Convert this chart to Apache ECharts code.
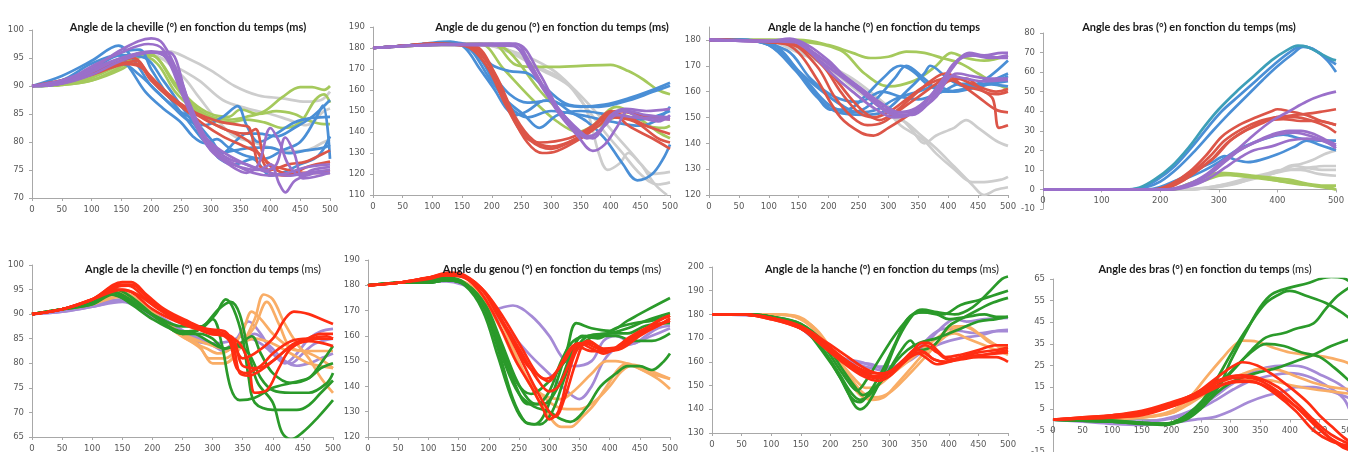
<!DOCTYPE html>
<html><head><meta charset="utf-8">
<script src="https://cdn.jsdelivr.net/npm/echarts@6/dist/echarts.min.js"></script>
<style>html,body{margin:0;padding:0;background:#fff}#c{width:1348px;height:452px}</style>
</head><body><div id="c"></div>
<script>
// ---------- Titles ----------
const titles = [
  "Angle de la cheville (°) en fonction du temps (ms)",
  "Angle de du genou (°) en fonction du temps (ms)",
  "Angle de la hanche (°) en fonction du temps",
  "Angle des bras (°) en fonction du temps (ms)",
  "Angle de la cheville (°) en fonction du temps",
  "Angle du genou (°) en fonction du temps",
  "Angle de la hanche (°) en fonction du temps",
  "Angle des bras (°) en fonction du temps"
];
const titleSuffix = ["", "", "", "", "(ms)", "(ms)", "(ms)", "(ms)"];

// ---------- Axis ranges ----------
const yMins = [70, 110, 120, -10, 65, 120, 130, -15];
const yMaxs = [100, 190, 185, 80, 100, 190, 200, 65];
const yIntervals = [5, 10, 10, 10, 5, 10, 10, 10];
const xIntervals = [50, 50, 50, 100, 50, 50, 50, 50];

// ---------- Panel 1: ankle (top) ----------
const ankleTopGrey = [
 [[0,90],[50,90.3],[100,92],[150,94],[200,95.8],[230,96.2],[260,95],[300,92.8],[340,90],[380,88.3],[420,87.8],[460,87.2],[485,87.5],[500,89]],
 [[0,90],[50,90.3],[100,92],[150,94],[200,95.5],[240,93.5],[280,91],[320,87.5],[360,86],[400,85],[430,84],[460,83],[490,85.5],[500,86]],
 [[0,90],[50,90.3],[100,92],[150,94],[200,95.5],[250,92],[280,88],[310,84],[340,81],[370,80],[400,79],[430,78.3],[460,78.5],[490,80],[500,80.5]]
];
const ankleTopGreen = [
 [[0,90],[50,90.2],[100,91],[150,93],[190,95.5],[210,95],[240,90],[270,86.5],[300,84.5],[330,84],[360,84.5],[390,85.5],[420,88],[450,89.8],[470,89.8],[490,89.3],[500,90]],
 [[0,90],[50,90.3],[100,91.5],[150,94],[185,96],[210,95],[240,90.5],[270,87],[300,85],[330,84.5],[350,85.8],[380,85],[410,85.5],[440,85],[460,84],[490,83.2],[500,83.2]],
 [[0,90],[50,90.2],[100,91],[150,93.5],[180,95.5],[210,94],[240,89],[270,86],[300,84],[330,83.5],[360,84],[390,83.5],[420,82.5],[450,83.5],[475,87.5],[490,88.5],[500,87]]
];
const ankleTopBlue = [
 [[0,90],[50,91.8],[100,94.5],[145,97.2],[175,94],[200,90],[230,87],[260,84],[290,83],[320,84.5],[345,86.4],[360,83],[380,80],[410,81.5],[440,83.5],[470,84.3],[500,84.5]],
 [[0,90],[50,91],[100,94],[145,95.5],[165,93],[190,89],[220,86],[250,83.5],[270,81],[290,79.8],[310,80.5],[330,79],[360,77.5],[390,77],[420,78.5],[450,80],[475,84],[488,86.5],[500,77]],
 [[0,90],[50,91],[100,93],[150,94],[180,92],[210,89],[240,86],[270,84],[300,80.5],[320,78],[340,80],[360,81.5],[380,81.5],[410,81],[440,82.5],[470,84.5],[500,87.5]],
 [[0,90],[50,90.5],[100,93],[150,95.5],[190,95],[220,91],[250,86.5],[280,82],[300,79],[315,77],[340,76],[370,77],[400,74],[420,74.5],[450,76],[480,77.5],[500,81]],
 [[0,90],[50,90.8],[100,93],[150,96],[180,96.5],[200,93],[230,88],[260,84],[290,80],[310,78],[340,78.5],[370,79],[400,79],[430,78],[460,78.5],[490,79],[500,79.5]]
];
const ankleTopRed = [
 [[0,90],[50,90.8],[100,92.5],[150,94],[175,94.5],[200,91],[230,88],[260,86],[290,84.5],[320,83.5],[350,83],[365,82.5],[380,76],[400,75],[430,76],[460,76.5],[490,78],[500,78.5]],
 [[0,90],[50,91],[100,92.5],[150,94.5],[170,95],[200,91.5],[230,88.5],[260,86],[290,84],[320,82.5],[350,81],[370,79.5],[385,77],[400,74.5],[430,74],[460,75.5],[500,76.5]],
 [[0,90],[50,90.8],[100,92],[150,94],[180,93.5],[210,90.5],[240,87.5],[270,85.5],[300,83.5],[330,82],[360,81.5],[375,82.3],[390,77],[410,75],[440,74.2],[470,74.5],[500,75]],
 [[0,90],[50,90.5],[100,92],[150,93.8],[175,94],[200,91],[230,88],[260,85.5],[290,83],[320,81],[350,79.5],[380,78],[400,76],[430,75],[460,74.5],[500,74.5]]
];
const ankleTopPurple = [
 [[0,90],[50,90.5],[100,93],[150,96.5],[200,98.5],[220,97.5],[250,91],[270,85],[290,81],[310,79],[340,77],[370,75.5],[400,74.5],[430,74],[460,74.5],[500,75]],
 [[0,90],[50,90.6],[100,93.5],[150,96],[195,97.5],[220,96.5],[250,90],[270,84.5],[290,80],[320,77],[350,75.5],[380,75],[400,76],[415,72.5],[425,71],[440,73],[460,74],[480,74.5],[500,74.5]],
 [[0,90],[50,91],[100,93],[150,95],[200,96],[225,95],[250,89],[275,83],[300,78.5],[330,76],[360,74.5],[380,76],[400,82.5],[415,80],[430,76],[450,74],[470,75],[500,75.5]],
 [[0,90],[50,90.5],[100,92.5],[150,95],[200,96.2],[230,95],[255,89],[280,83],[300,79.5],[330,77],[360,76],[390,75],[410,76],[425,80.8],[440,78],[455,73.5],[475,73.8],[500,74.5]],
 [[0,90],[50,90.4],[100,92],[150,94.5],[200,96],[230,96],[260,88],[285,82],[310,78],[340,76],[370,74.5],[400,74],[430,74.5],[460,75.5],[500,76]]
];

// ---------- Panel 2: knee (top) ----------
const kneeTopGrey = [
 [[0,180],[100,181.5],[180,182],[230,178],[280,170],[330,162],[360,150],[380,130],[395,122],[415,125],[430,130],[450,125],[470,120],[500,121]],
 [[0,180],[100,181.5],[170,181.5],[220,180],[270,172],[320,165],[350,155],[390,140],[420,130],[450,120],[480,115],[500,116]],
 [[0,180],[100,181.5],[180,181.5],[240,178],[300,170],[340,160],[380,148],[410,138],[450,125],[475,115],[495,110]]
];
const kneeTopGreen = [
 [[0,180],[100,181.5],[200,182],[240,172],[270,171],[300,171],[350,171.5],[400,172],[430,169],[455,165],[480,160],[500,158]],
 [[0,180],[100,181.5],[180,182],[220,170],[270,155],[310,145],[345,140],[370,143],[410,152],[450,146],[480,140],[500,137]],
 [[0,180],[100,181.5],[200,181.5],[230,178],[280,160],[320,148],[350,140],[380,143],[420,148],[460,143],[490,142],[500,143]]
];
const kneeTopBlue = [
 [[0,180],[50,181],[100,182.5],[130,183],[155,180],[180,170],[205,160],[225,151],[240,148],[260,150],[290,155],[320,153],[350,152],[390,153],[430,156],[470,160],[500,163.5]],
 [[0,180],[50,181],[100,182],[140,182.5],[170,180],[200,172],[230,169],[260,168],[290,161],[330,153],[380,152],[430,155],[470,159],[500,162]],
 [[0,180],[50,181],[100,182],[140,182.5],[165,179],[195,166],[225,155],[255,148],[280,142],[310,148],[350,150],[400,148],[450,146],[500,150]],
 [[0,180],[50,181],[100,182],[140,182],[170,178],[200,168],[230,158],[260,154],[300,155],[330,150],[360,145],[390,137],[420,125],[445,117],[470,120],[490,128],[500,134]],
 [[0,180],[50,181],[100,182],[140,182],[175,177],[205,163],[230,152],[260,147],[300,150],[350,148],[400,145],[450,143],[480,146],[500,152]]
];
const kneeTopRed = [
 [[0,180],[50,181],[100,182],[160,181],[195,172],[230,150],[260,135],[285,130],[310,131],[350,137],[380,143],[405,149],[430,147],[460,143],[490,140],[500,139]],
 [[0,180],[50,181],[100,182],[165,181],[200,170],[235,148],[265,136],[300,132],[330,135],[360,140],[410,150],[450,148],[500,146]],
 [[0,180],[50,181],[100,182],[155,181],[190,172],[225,152],[255,138],[280,135],[330,137],[370,143],[400,150],[430,143],[470,137],[500,132]],
 [[0,180],[50,181],[100,182],[170,181],[205,168],[240,147],[270,136],[300,133],[350,138],[400,147],[440,145],[480,137],[500,135]]
];
const kneeTopPurple = [
 [[0,180],[100,181.5],[230,182],[250,178],[280,165],[310,150],[345,138],[370,131],[390,134],[410,142],[430,150],[460,148],[500,147]],
 [[0,180],[100,181.5],[240,182],[260,175],[290,160],[330,145],[360,138],[380,140],[400,148],[425,151],[460,150],[500,151]],
 [[0,180],[100,181.5],[235,181],[265,170],[300,155],[350,140],[370,137],[395,145],[420,150],[450,147],[480,145],[500,148]],
 [[0,180],[100,181.5],[240,182],[280,168],[310,152],[340,141],[360,137],[390,143],[410,148],[440,147],[500,146]]
];

// ---------- Panel 3: hip (top) ----------
const hipTopGrey = [
 [[0,180],[100,179.5],[150,175],[200,170],[240,165],[280,158],[320,150],[340,145],[360,140],[380,143],[400,145],[410,146],[430,149],[450,146],[480,141],[500,139]],
 [[0,180],[100,179.5],[160,176],[210,168],[260,160],[300,152],[320,147],[340,144],[360,141],[380,136],[410,130],[440,125],[460,125],[490,126],[500,127]],
 [[0,180],[100,179.5],[150,176],[200,169],[250,160],[280,155],[310,150],[330,148],[350,144],[380,138],[410,131],[440,124],[460,120],[480,122],[500,123]]
];
const hipTopGreen = [
 [[0,180],[100,180],[150,180],[200,178],[240,175],[270,173],[300,173.5],[330,175.5],[360,175],[390,173],[420,171],[450,167],[480,163],[500,161]],
 [[0,180],[100,180],[150,179.5],[220,176],[260,167],[300,162],[320,162.5],[350,165],[380,170],[405,175],[430,173],[460,172],[500,174]]
];
const hipTopBlue = [
 [[0,180],[50,180],[100,178],[140,170],[175,160],[205,153],[230,153],[260,158],[290,165],[320,170],[340,168],[370,162],[400,160],[440,162],[470,166],[500,172]],
 [[0,180],[50,180],[100,178],[145,168],[180,158],[215,152],[260,151],[290,152],[330,160],[360,167],[370,170],[400,165],[430,162],[470,163],[500,164]],
 [[0,180],[50,180],[110,177],[160,165],[200,155],[240,152],[270,155],[310,165],[330,170],[360,165],[390,160],[430,161],[470,163],[500,166]],
 [[0,180],[50,180],[110,178],[150,168],[190,160],[220,155],[250,152],[280,153],[310,157],[350,160],[380,162],[410,160],[450,162],[480,165],[500,167]],
 [[0,180],[50,180],[130,176],[170,165],[210,158],[250,156],[290,160],[320,158],[350,157],[390,160],[420,163],[460,163],[500,162]]
];
const hipTopRed = [
 [[0,180],[120,179],[150,175],[180,165],[220,150],[255,144],[275,143],[300,146],[340,152],[370,158],[400,164],[430,165],[460,160],[480,159],[500,160]],
 [[0,180],[130,179],[180,170],[210,158],[240,150],[265,147],[290,148],[320,153],[350,158],[380,163],[400,166],[420,163],[450,158],[480,153],[500,152]],
 [[0,180],[140,178],[190,170],[220,160],[250,152],[275,150],[300,152],[330,157],[360,162],[395,165],[430,162],[460,160],[475,157],[485,146],[500,147]],
 [[0,180],[150,178],[200,168],[235,158],[260,152],[285,149],[310,152],[340,158],[370,164],[395,167],[420,165],[450,162],[480,160],[500,161]]
];
const hipTopPurple = [
 [[0,180],[100,179.5],[135,180.5],[165,178],[200,172],[230,165],[265,158],[295,153],[320,151],[345,152],[370,158],[395,166],[415,172],[435,175],[460,174],[490,175],[500,175]],
 [[0,180],[100,179.5],[140,180],[170,176],[205,170],[245,162],[280,155],[310,151],[340,151],[365,155],[390,163],[410,170],[430,174],[460,174],[490,173],[500,173]],
 [[0,180],[100,179.5],[150,179],[185,172],[220,166],[255,160],[290,155],[320,152],[350,153],[380,158],[400,165],[415,167],[440,166],[470,165],[500,165]],
 [[0,180],[100,179.5],[130,180],[160,177],[200,168],[240,160],[280,153],[310,150],[335,151],[360,156],[385,162],[405,166],[430,165],[460,164],[500,164.5]],
 [[0,180],[100,179.5],[140,180],[175,175],[215,168],[250,162],[285,156],[315,152],[340,153],[365,157],[390,164],[410,171],[440,174],[470,173],[500,174]]
];

// ---------- Panel 4: arms (top) ----------
const armsTopGrey = [
 [[0,0],[230,0],[280,1],[320,3],[360,6],[400,9],[420,12],[440,13],[460,15],[480,18],[500,20]],
 [[0,0],[250,0],[290,1],[330,3],[360,6],[390,8],[420,10],[450,11],[480,12],[500,12]],
 [[0,0],[240,0],[290,1],[340,4],[380,7],[410,10],[430,12],[450,11],[480,10],[500,10]],
 [[0,0],[250,0],[300,2],[340,5],[380,8],[410,10],[440,10],[470,8],[500,7]]
];
const armsTopGreen = [
 [[0,0],[220,0],[250,3],[280,7],[300,8.5],[330,8],[360,7],[390,6],[420,5],[450,3],[480,2],[500,2]],
 [[0,0],[220,0],[250,2],[280,5],[300,7],[320,7.5],[350,7],[390,5],[430,3],[460,2],[490,1],[500,0]],
 [[0,0],[215,0],[250,3],[275,6],[300,8],[330,7],[360,6],[400,4.5],[440,3],[480,1],[500,0]]
];
const armsTopTeal = [
 [[0,0],[140,0],[165,1],[190,5],[220,12],[250,22],[275,32],[300,41],[330,50],[360,58],[390,66],[415,71],[435,73.5],[450,73],[470,70],[490,67],[500,66]]
];
const armsTopBlue = [
 [[0,0],[145,0],[170,1],[195,5],[225,12],[255,22],[282,32],[305,40],[335,48],[365,56],[395,64],[420,70],[440,73],[460,72],[480,68],[500,64]],
 [[0,0],[150,0],[175,1],[200,4],[230,11],[260,20],[290,30],[315,38],[345,47],[375,56],[400,63],[425,69],[445,73],[465,71],[485,66],[500,60]],
 [[0,0],[180,0],[230,5],[260,10],[290,14],[310,17],[330,15],[350,14],[370,15],[400,18],[430,22],[450,25],[470,23],[490,21],[500,20]],
 [[0,0],[190,0],[230,4],[270,9],[300,14],[330,20],[360,24],[390,27],[410,28],[440,26],[470,25],[500,25]]
];
const armsTopRed = [
 [[0,0],[190,0],[220,3],[250,9],[280,18],[305,27],[335,33],[365,37],[390,40],[400,41],[420,40],[450,38],[475,35],[500,33]],
 [[0,0],[190,0],[225,3],[255,9],[285,17],[310,25],[340,31],[370,35],[400,37],[430,38],[460,39],[480,40],[500,41]],
 [[0,0],[200,0],[230,3],[260,9],[290,16],[315,24],[345,30],[375,34],[400,37],[430,37],[460,35],[485,32],[500,29]],
 [[0,0],[195,0],[235,4],[265,10],[295,17],[320,25],[350,31],[380,35],[410,36],[440,35],[470,35],[500,33]]
];
const armsTopPurple = [
 [[0,0],[210,0],[250,3],[280,8],[300,13],[330,20],[360,28],[390,35],[420,40],[450,45],[475,48],[500,50]],
 [[0,0],[215,0],[255,3],[285,8],[305,13],[330,19],[360,24],[390,28],[420,30],[440,30],[465,28],[485,25],[500,23]],
 [[0,0],[220,0],[255,2],[285,6],[310,11],[335,16],[360,20],[390,22],[420,25],[450,26],[475,25],[500,22]],
 [[0,0],[215,0],[255,3],[285,8],[310,14],[335,20],[370,25],[400,28],[430,29],[460,27],[485,24],[500,21]]
];

// ---------- Panel 5: ankle (bottom) ----------
const ankleBotPurple = [
 [[0,90],[50,90.8],[100,92],[150,93],[180,91.5],[220,89],[260,86],[300,84],[320,83],[340,85],[360,88.5],[380,86],[400,82],[420,80],[440,82],[460,85],[480,86.5],[500,87]],
 [[0,90],[50,90.5],[100,91.5],[150,92.5],[185,91],[225,88.5],[260,85.5],[295,84],[320,82.5],[345,84],[370,86],[395,83.5],[420,80.5],[440,79.5],[460,80],[480,81],[500,82]],
 [[0,90],[50,90.5],[100,91.5],[150,92.8],[180,91],[220,88],[260,85],[300,84],[330,84.5],[350,85.5],[380,84],[410,81],[430,80],[450,82],[470,84],[500,85]]
];
const ankleBotOrange = [
 [[0,90],[50,91],[100,92.5],[145,94],[170,92.5],[210,89],[250,85.5],[280,83],[300,80],[320,80],[345,83],[370,89],[385,94],[400,93],[420,88],[440,84],[460,81],[480,77],[500,74]],
 [[0,90],[50,91],[100,92.5],[140,94.5],[165,93],[200,90],[240,86.5],[275,84],[295,81],[320,81],[345,83.5],[370,87.5],[390,92.5],[410,88],[430,83],[450,82.5],[470,81.5],[490,80],[500,79]],
 [[0,90],[50,91],[100,92],[145,93.5],[175,92],[215,88.5],[255,85],[290,83],[310,82],[330,83],[350,86.5],[365,90.5],[380,89],[400,86],[425,83.5],[450,82.5],[500,82.5]],
 [[0,90],[50,91],[100,92],[150,94.5],[175,93],[215,89],[250,86],[290,84],[320,83],[345,84],[370,85],[400,84],[430,82],[460,80],[500,79]]
];
const ankleBotGreen = [
 [[0,90],[50,91],[100,92.5],[135,94.5],[160,93],[200,90],[250,87.5],[280,87.5],[300,89],[315,84],[330,75],[345,72.5],[370,73],[400,75],[430,76],[460,77],[480,79],[500,80]],
 [[0,90],[50,91],[100,92.5],[140,95],[170,93],[210,89],[250,86.5],[280,87],[305,90],[322,93],[335,91],[350,85],[360,77],[370,72],[400,70.5],[440,70.5],[460,71.5],[480,74],[500,76.5]],
 [[0,90],[50,91],[100,92],[130,94],[170,92],[210,89],[250,86],[280,87],[310,91],[330,92.5],[345,90],[360,82],[375,76],[400,72],[415,66],[430,64.5],[450,66],[475,69],[500,72.5]],
 [[0,90],[50,91],[100,92.5],[135,94.5],[175,92],[215,88.5],[250,86],[280,86],[300,85],[320,83],[345,84],[365,85.5],[380,82],[400,78],[430,76],[460,77],[480,80],[500,83.5]],
 [[0,90],[50,91],[100,92],[135,94],[165,92],[200,89],[240,86.5],[270,86],[300,84],[320,83],[340,83.5],[360,82],[380,77],[400,74.5],[430,74],[460,74],[490,76],[500,78]]
];
const ankleBotRed = [
 [[0,90],[50,91],[100,93],[150,96.5],[165,96.5],[190,94],[220,91],[260,88.5],[290,87],[320,86.5],[335,84],[350,81],[370,82],[400,85],[420,89],[435,90.5],[460,90],[480,89],[500,88]],
 [[0,90],[50,91],[100,93],[145,96],[165,96],[195,93],[230,90],[265,88],[300,86.5],[325,85.5],[340,79],[355,78],[380,79.5],[400,82],[430,84.5],[460,85],[500,85]],
 [[0,90],[50,91],[100,93],[140,95.5],[160,95.8],[190,93],[225,90],[260,88],[295,86],[320,85.5],[335,83],[345,78],[360,77.5],[385,79],[410,81.5],[435,84],[460,85],[490,85.5],[500,85]],
 [[0,90],[50,91],[100,93],[140,95],[165,94.5],[200,91],[240,88.5],[280,87],[300,86],[325,85.5],[345,84],[360,80],[370,74],[390,74.5],[410,79],[430,83],[460,84.5],[500,83.5]],
 [[0,90],[50,91],[100,93],[150,95],[175,94],[210,91],[250,88],[290,86.5],[320,86],[335,85],[350,79.5],[375,79],[400,80.5],[425,83],[450,84.5],[480,86],[500,86]]
];

// ---------- Panel 6: knee (bottom) ----------
const kneeBotPurple = [
 [[0,180],[50,181],[130,182],[175,178],[200,170],[240,172],[270,168],[300,160],[320,152],[340,148],[370,150],[390,158],[410,160],[440,157],[460,160],[480,163],[500,164]],
 [[0,180],[50,181],[130,181.5],[180,177],[210,168],[240,160],[270,152],[300,145],[330,138],[350,135],[370,140],[390,150],[410,155],[440,157],[470,160],[500,163]]
];
const kneeBotOrange = [
 [[0,180],[50,181],[100,182],[130,182.5],[170,180],[210,170],[240,155],[270,140],[295,130],[320,124],[335,124],[355,128],[375,133],[395,140],[415,147],[430,149],[450,147],[480,143],[500,139]],
 [[0,180],[50,181],[100,182],[130,182],[175,179],[215,168],[245,152],[270,140],[295,136],[320,135],[340,138],[370,145],[395,150],[410,150],[440,148],[470,145],[500,143]],
 [[0,180],[50,181],[100,181.5],[130,182],[180,178],[215,165],[245,150],[275,140],[305,133],[330,131],[350,131],[375,134],[400,140],[420,146],[440,148.5],[460,147],[490,144],[500,143]]
];
const kneeBotGreen = [
 [[0,180],[50,181],[100,182],[130,183],[160,181],[190,172],[215,155],[240,135],[260,126],[275,125],[290,128],[310,140],[330,155],[345,165],[370,163],[400,162],[430,166],[460,170],[500,175]],
 [[0,180],[50,181],[100,181.5],[130,182],[160,180],[190,170],[215,152],[240,134],[260,126],[285,125],[305,130],[325,143],[345,155],[365,160],[400,161],[430,163],[460,166],[500,169]],
 [[0,180],[50,181],[100,181],[130,182],[165,180],[195,172],[220,158],[245,143],[265,135],[280,133],[300,138],[320,150],[340,158],[370,160],[410,160],[440,158],[470,158],[500,161]],
 [[0,180],[50,181],[100,181],[130,182],[165,180],[195,170],[220,155],[245,140],[265,133],[290,133],[315,140],[335,152],[355,160],[380,159],[410,163],[440,165],[470,166],[500,168]],
 [[0,180],[50,181],[100,182],[130,182],[170,179],[200,168],[225,150],[250,137],[275,132],[300,130],[320,127],[335,126],[360,131],[385,140],[410,145],[430,148],[450,148],[470,146.5],[490,150],[500,153]],
 [[0,180],[50,181],[100,181],[130,182],[165,180],[195,171],[220,156],[245,142],[270,137],[300,142],[320,148],[345,155],[375,160],[400,161],[430,161],[460,164],[500,165]]
];
const kneeBotRed = [
 [[0,180],[50,181],[100,183],[135,185],[160,184],[190,178],[215,168],[240,158],[265,148],[290,143],[300,142],[315,147],[335,155],[350,157],[370,155],[390,153],[420,157],[450,161],[480,164],[500,167]],
 [[0,180],[50,181],[100,183],[130,184.5],[160,183.5],[195,177],[225,165],[255,153],[280,143],[300,138],[315,140],[335,150],[350,157],[370,157],[390,154],[420,155],[450,160],[480,164],[500,166]],
 [[0,180],[50,181],[100,183],[130,184],[165,182.5],[200,175],[230,162],[255,150],[280,138],[300,130],[310,128],[325,135],[345,150],[360,157],[380,155],[400,154],[430,158],[460,163],[490,167],[500,168]],
 [[0,180],[50,181],[100,183],[130,184],[160,183],[190,176],[220,163],[245,150],[270,140],[290,131],[300,127],[315,130],[330,143],[345,154],[365,158],[390,155],[420,156],[450,161],[480,166],[500,168]],
 [[0,180],[50,181],[100,182.5],[130,184],[165,183],[195,177],[225,167],[255,155],[280,145],[295,143],[305,144],[325,150],[345,156],[370,154],[400,154],[430,159],[460,163],[500,166]]
];

// ---------- Panel 7: hip (bottom) ----------
const hipBotPurple = [
 [[0,180],[100,179],[140,176],[175,170],[210,163],[240,160],[270,159],[290,157],[310,158],[340,162],[370,170],[395,176],[410,178],[430,177],[460,178],[500,178.5]],
 [[0,180],[100,179],[145,175],[180,168],[215,162],[245,159],[275,157],[295,156],[320,160],[350,166],[375,172],[395,174],[420,173],[450,172],[480,173],[500,173]],
 [[0,180],[100,179],[145,175],[180,168],[215,162],[250,160],[280,158],[300,158],[330,160],[360,165],[390,168],[420,170],[450,171],[480,173],[500,173.5]]
];
const hipBotOrange = [
 [[0,180],[100,180],[140,179.5],[170,175],[200,165],[230,153],[250,146],[270,144],[290,145],[310,150],[335,157],[360,164],[390,170],[410,174],[425,175],[450,172],[480,167],[500,164]],
 [[0,180],[100,180],[140,179],[175,174],[205,164],[235,153],[255,147],[275,145],[300,147],[330,154],[360,162],[390,170],[410,172],[430,170],[460,167],[480,165],[500,163]],
 [[0,180],[100,180],[140,179],[175,173],[210,162],[240,153],[260,149],[280,150],[305,155],[330,160],[360,166],[385,171],[410,175],[430,175],[450,172],[470,168],[500,166]]
];
const hipBotGreen = [
 [[0,180],[50,180],[100,179],[150,175],[185,165],[220,152],[240,142],[250,140],[265,143],[290,155],[315,170],[340,180],[355,182],[380,181],[410,180],[440,183],[470,190],[490,195],[500,196]],
 [[0,180],[50,180],[100,179],[150,175],[185,166],[215,154],[235,145],[250,143],[260,145],[285,155],[310,168],[330,178],[350,181],[380,180],[400,178],[430,179],[460,180],[480,179],[500,179]],
 [[0,180],[50,180],[100,179],[150,176],[185,168],[215,157],[235,150],[245,148],[260,152],[280,160],[300,168],[320,175],[340,180],[360,181],[390,180],[420,184],[450,186],[475,188],[500,190]],
 [[0,180],[50,180],[100,179],[150,175],[185,166],[215,155],[235,147],[250,144],[270,147],[295,155],[320,165],[335,169],[350,165],[375,167],[400,175],[420,178],[450,182],[475,185],[500,187]],
 [[0,180],[50,180],[100,179],[150,176],[190,168],[220,157],[240,150],[255,146],[270,148],[290,153],[310,160],[330,165],[350,168],[380,170],[400,172],[420,174],[450,177],[480,178],[500,179]]
];
const hipBotRed = [
 [[0,180],[50,180],[100,178.5],[150,175],[190,168],[225,161],[255,156],[275,154],[295,155],[320,160],[340,165],[355,168],[365,168],[380,165],[395,162],[420,163],[450,165],[480,167],[500,167]],
 [[0,180],[50,180],[100,178.5],[150,174],[190,167],[225,160],[255,155],[280,153],[305,156],[330,162],[345,165],[360,164],[375,161],[395,160],[420,162],[450,164],[480,165],[500,166]],
 [[0,180],[50,180],[100,178],[150,174],[190,166],[225,159],[255,154],[280,152],[300,154],[325,160],[345,164],[360,162],[380,159],[400,160],[430,162],[460,163],[500,164]],
 [[0,180],[50,180],[100,178.5],[150,175],[195,168],[230,162],[260,157],[285,155],[310,157],[335,162],[355,164],[375,161],[395,160],[420,161],[450,162],[480,162],[500,160]],
 [[0,180],[50,180],[100,178],[150,174],[195,166],[230,160],[260,156],[285,155],[315,158],[340,164],[360,167],[380,164],[400,161],[430,162],[460,163],[500,165]]
];

// ---------- Panel 8: arms (bottom) ----------
const armsBotPurple = [
 [[0,0],[50,-1],[100,-2],[150,-2.5],[200,-1.5],[240,0],[270,1],[300,4],[330,8],[360,11],[390,13],[410,15],[440,15],[470,13],[500,10]],
 [[0,0],[50,-0.5],[100,-1],[150,-1],[200,1],[240,5],[270,10],[300,16],[330,21],[360,24],[390,25],[420,24.5],[450,21],[480,17],[500,13]],
 [[0,0],[50,-0.5],[100,-1],[150,-1],[200,0.5],[240,4],[275,9],[305,14],[335,18],[370,20.5],[400,21.5],[430,20],[460,16],[490,10],[500,5]]
];
const armsBotOrange = [
 [[0,0],[100,0.5],[150,1],[200,4],[230,10],[260,20],[285,28],[305,34],[320,36.5],[345,36],[375,33],[400,31],[430,30],[460,29],[490,27],[500,26]],
 [[0,0],[100,0.5],[150,1],[200,3],[230,8],[260,14],[290,18],[320,21],[350,23.5],[380,23],[410,20],[440,17],[470,15],[500,14]],
 [[0,0],[100,0.5],[150,1],[200,3],[235,8],[265,13],[300,17],[340,18.5],[370,18],[400,16],[440,14],[470,13],[500,12]]
];
const armsBotGreen = [
 [[0,0],[50,-0.5],[100,-1],[150,-2],[190,-2.5],[220,0],[250,6],[280,15],[300,27],[325,40],[350,52],[370,58],[400,61],[430,63],[450,65],[470,66],[490,65.5],[500,64]],
 [[0,0],[100,-1],[160,-2],[190,-2],[220,1],[250,8],[275,18],[300,30],[330,43],[360,54],[390,59],[400,59.5],[430,57],[460,54],[485,50],[500,47]],
 [[0,0],[100,-1],[150,-1.5],[190,-2],[220,1],[250,8],[280,16],[305,23],[335,32],[360,38],[390,40],[410,42],[440,44.5],[460,51],[480,57],[500,61]],
 [[0,0],[100,-0.5],[150,-1.5],[185,-2],[215,0],[245,6],[270,13],[300,22],[330,30],[360,35],[390,34],[420,31],[450,29],[475,24],[500,18]],
 [[0,0],[100,-0.5],[150,-1.5],[190,-2],[225,0],[250,5],[275,12],[300,17],[325,20],[350,22],[380,24],[410,27],[440,30],[470,34],[500,37]]
];
const armsBotRed = [
 [[0,0],[50,1],[100,2],[150,4],[200,8],[240,12],[270,18],[300,24],[320,26.5],[345,25],[370,21],[400,15],[430,8],[450,2],[470,-3],[490,-8],[500,-10]],
 [[0,0],[50,1],[100,2],[150,3.5],[200,7.5],[240,12],[270,17],[300,20],[320,20.5],[350,19],[380,15],[410,8],[440,0],[465,-6],[490,-10],[500,-11]],
 [[0,0],[50,0.5],[100,1.5],[150,3],[200,7],[240,12],[270,16],[300,19],[325,19.5],[350,18],[380,13],[410,6],[440,-2],[465,-8],[490,-12],[500,-13]],
 [[0,0],[50,0.5],[100,1],[150,2.5],[200,6],[240,11],[270,15],[300,17],[330,17.5],[355,16],[385,11],[420,4],[450,-4],[470,-9],[490,-13],[500,-14]],
 [[0,0],[50,0.5],[100,1],[150,2],[200,6],[240,10],[270,14],[300,17.5],[320,18],[345,17],[375,12],[410,4],[440,-5],[470,-10],[500,-12]]
];

// ---------- Colours ----------
const C = {
  grey:'#cdcdcd', green:'#a5c95c', blue:'#4a8fd6', teal:'#3d9fb8', red:'#dc5548', purple:'#9a6fca',
  dgreen:'#2a9a2a', bred:'#ff2d12', orange:'#f9ad66', lpurple:'#a58ad6'
};

const panels = [
  {grid:{left:32, top:30, width:298, height:168}, groups:[['grey',ankleTopGrey],['green',ankleTopGreen],['blue',ankleTopBlue],['red',ankleTopRed],['purple',ankleTopPurple]], tx:183, ty:17},
  {grid:{left:373, top:27, width:297, height:168}, groups:[['grey',kneeTopGrey],['green',kneeTopGreen],['blue',kneeTopBlue],['red',kneeTopRed],['purple',kneeTopPurple]], tx:547, ty:17},
  {grid:{left:709, top:27, width:299, height:168}, groups:[['grey',hipTopGrey],['green',hipTopGreen],['blue',hipTopBlue],['red',hipTopRed],['purple',hipTopPurple]], tx:869, ty:17},
  {grid:{left:1043, top:33, width:293, height:176}, groups:[['grey',armsTopGrey],['green',armsTopGreen],['blue',armsTopBlue],['teal',armsTopTeal],['red',armsTopRed],['purple',armsTopPurple]], tx:1184, ty:17},
  {grid:{left:32, top:265, width:301, height:172}, groups:[['lpurple',ankleBotPurple],['orange',ankleBotOrange],['dgreen',ankleBotGreen],['bred',ankleBotRed]], tx:198, ty:259},
  {grid:{left:368, top:260, width:302, height:177}, groups:[['lpurple',kneeBotPurple],['orange',kneeBotOrange],['dgreen',kneeBotGreen],['bred',kneeBotRed]], tx:547, ty:259},
  {grid:{left:712, top:267, width:296, height:166}, groups:[['lpurple',hipBotPurple],['orange',hipBotOrange],['dgreen',hipBotGreen],['bred',hipBotRed]], tx:877, ty:259},
  {grid:{left:1053, top:279, width:296, height:173}, groups:[['lpurple',armsBotPurple],['orange',armsBotOrange],['dgreen',armsBotGreen],['bred',armsBotRed]], tx:1200, ty:259}
];

const FONT = 'DejaVu Sans';
const grids = [], xAxes = [], yAxes = [], series = [], titleOpts = [];
panels.forEach((p, i) => {
  grids.push(Object.assign({containLabel:false, outerBoundsMode:'none'}, p.grid));
  // x axis sits on the zero line when the y range crosses zero (Excel style)
  const zeroOffset = (yMins[i] < 0 && yMaxs[i] > 0) ? -p.grid.height * (0 - yMins[i]) / (yMaxs[i] - yMins[i]) : 0;
  xAxes.push({type:'value', gridIndex:i, min:0, max:500, interval:xIntervals[i], position:'bottom', offset:zeroOffset,
    axisLine:{show:true, onZero:false, lineStyle:{color:'#a8a8a8', width:1}},
    axisTick:{show:true, length:3, lineStyle:{color:'#a8a8a8'}},
    axisLabel:{fontSize:8.5, color:'#595959', fontFamily:FONT, margin:7, hideOverlap:false},
    splitLine:{show:false}});
  yAxes.push({type:'value', gridIndex:i, min:yMins[i], max:yMaxs[i], interval:yIntervals[i],
    axisLine:{show:true, onZero:false, lineStyle:{color:'#a8a8a8', width:1}},
    axisTick:{show:true, length:3, lineStyle:{color:'#a8a8a8'}},
    axisLabel:{fontSize:8.5, color:'#595959', fontFamily:FONT, margin:8, showMaxLabel: i!==2},
    splitLine:{show:false}});
  const suf = titleSuffix[i];
  titleOpts.push({
    text: suf ? '{b|' + titles[i] + ' }{n|' + suf + '}' : '{b|' + titles[i] + '}',
    left: p.tx, top: p.ty, textAlign:'center',
    textStyle:{rich:{
      b:{fontFamily:'Lato', fontWeight:'bold', fontSize:11, color:'#1a1a1a'},
      n:{fontFamily:'Lato', fontWeight:'normal', fontSize:11, color:'#1a1a1a'}
    }}
  });
  p.groups.forEach(([ck, lines]) => {
    lines.forEach(line => {
      series.push({type:'line', xAxisIndex:i, yAxisIndex:i, data:line, smooth:0.35,
        showSymbol:false, symbol:'none', silent:true, clip:true,
        lineStyle:{width:2.7, color:C[ck]}});
    });
  });
});

const chart = echarts.init(document.getElementById('c'), null, {renderer:'canvas'});
chart.setOption({animation:false, backgroundColor:'#ffffff', title:titleOpts, grid:grids, xAxis:xAxes, yAxis:yAxes, series:series});
</script></body></html>
